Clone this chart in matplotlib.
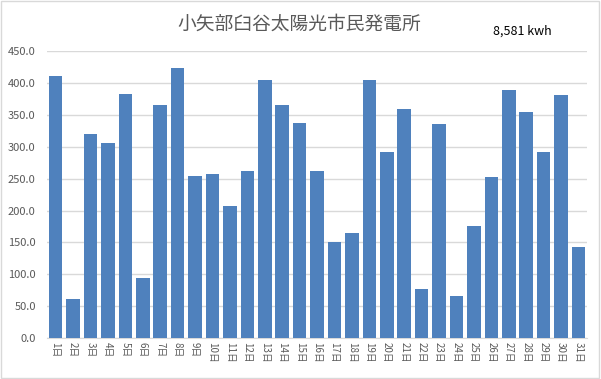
import matplotlib
matplotlib.use("Agg")
import matplotlib.pyplot as plt
from matplotlib.patches import Rectangle

plt.rcParams['font.family'] = ['Noto Sans CJK JP', 'DejaVu Sans']

# 日別発電量 (kWh)
dias = [f"{d}日" for d in range(1, 32)]
valores = [411, 61, 320, 306, 383, 94, 365, 424, 254, 257,
           207, 262, 404, 366, 338, 262, 151, 165, 405, 292,
           359, 77, 335, 66, 176, 253, 389, 355, 292, 382, 143]
yticks = [0, 50, 100, 150, 200, 250, 300, 350, 400, 450]
titulo = "小矢部臼谷太陽光市民発電所"
total_txt = "8,581 kwh"

fig = plt.figure(figsize=(6.01, 3.79), dpi=100)
ax = fig.add_axes([0.078, 0.108, 0.899, 0.757])

x = list(range(len(dias)))
ax.bar(x, valores, width=0.78, color='#4F81BD', zorder=3)

ax.set_xlim(-0.5, len(dias) - 0.5)
ax.set_ylim(0, 450)
ax.set_yticks(yticks)
ax.set_yticklabels([f"{v:.1f}" for v in yticks], fontsize=8, color='#595959')
ax.set_xticks(x)
ax.set_xticklabels(dias, rotation=-90, fontsize=7, color='#595959', va='top')
ax.tick_params(axis='y', length=0, pad=8)
ax.tick_params(axis='x', length=0, pad=3)
ax.grid(axis='y', color='#D9D9D9', linewidth=1, zorder=0)
for s in ['top', 'right', 'left']:
    ax.spines[s].set_visible(False)
ax.spines['bottom'].set_color('#D9D9D9')

fig.text(0.498, 0.935, titulo, ha='center', va='center', fontsize=13.5, color='#595959')
fig.text(0.82, 0.918, total_txt, ha='left', va='center', fontsize=9, color='black')

# 外枠
fig.patches.append(Rectangle((0.002, 0.003), 0.995, 0.994, transform=fig.transFigure,
                             fill=False, edgecolor='#D9D9D9', linewidth=1))

fig.savefig("out.png", dpi=100)
